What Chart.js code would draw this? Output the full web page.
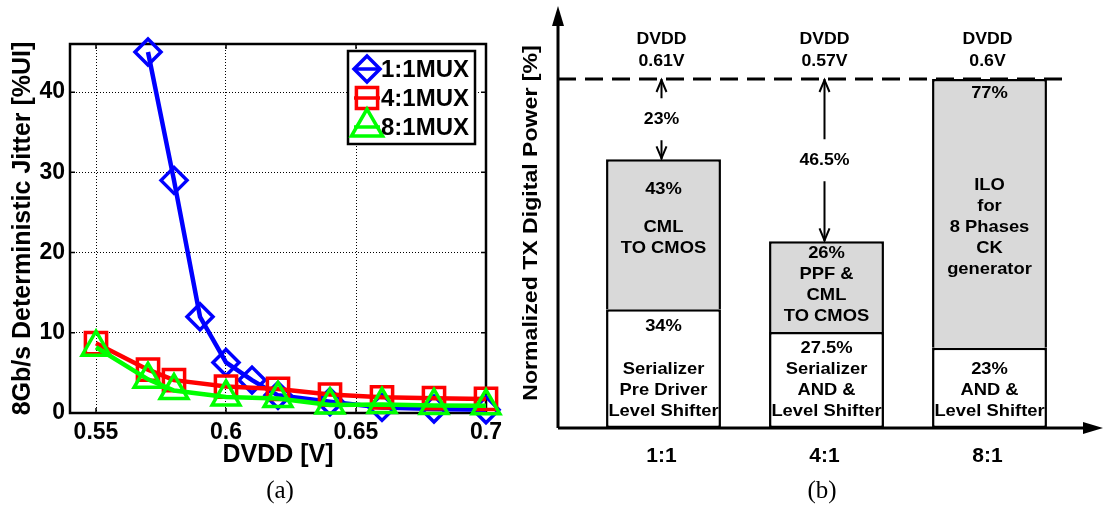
<!DOCTYPE html>
<html>
<head>
<meta charset="utf-8">
<script src="https://cdn.jsdelivr.net/npm/chart.js@4/dist/chart.umd.min.js"></script>
<style>
  html, body { margin: 0; padding: 0; background: #fff; }
  #wrap { position: relative; width: 1104px; height: 511px; overflow: hidden; }
  #jitter { position: absolute; left: 0; top: 0; }
  #power { position: absolute; left: 520px; top: 0; }
  .cap { position: absolute; font: 25px "Liberation Serif", serif; color: #000; transform: translate(-50%, -50%); }
</style>
</head>
<body>
<div id="wrap">
  <canvas id="jitter" width="520" height="511"></canvas>
  <canvas id="power" width="584" height="511"></canvas>
  <div class="cap" style="left:280px; top:490px">(a)</div>
  <div class="cap" style="left:822px; top:490px">(b)</div>
</div>
<script>
// (a) deterministic jitter vs DVDD
const mux1Vdd = [0.57, 0.58, 0.59, 0.6, 0.61, 0.62, 0.64, 0.66, 0.68, 0.7];
const mux1Jitter = [45, 29, 12, 6.3, 4.1, 2.2, 1.4, 0.7, 0.5, 0.4];
const mux4Vdd = [0.55, 0.57, 0.58, 0.6, 0.62, 0.64, 0.66, 0.68, 0.7];
const mux4Jitter = [8.7, 5.4, 4.1, 3.3, 3.0, 2.3, 1.95, 1.85, 1.75];
const mux8Vdd = [0.55, 0.57, 0.58, 0.6, 0.62, 0.64, 0.66, 0.68, 0.7];
const mux8Jitter = [8.2, 4.2, 2.8, 2.0, 1.8, 1.0, 1.05, 0.95, 0.9];
const seriesNames = ['1:1MUX', '4:1MUX', '8:1MUX'];
const vddTicks = [0.55, 0.6, 0.65, 0.7];
const vddTickLabels = ['0.55', '0.6', '0.65', '0.7'];
const jitterTicks = [0, 10, 20, 30, 40];

// (b) normalized TX digital power breakdown
const muxRatios = ['1:1', '4:1', '8:1'];
const lowerShare = [34, 27.5, 23];
const upperShare = [43, 26, 77];
const lowerNames = [['Serializer', 'Pre Driver', 'Level Shifter'], ['Serializer', 'AND &', 'Level Shifter'], ['AND &', 'Level Shifter']];
const upperNames = [['CML', 'TO CMOS'], ['PPF &', 'CML', 'TO CMOS'], ['ILO', 'for', '8 Phases', 'CK', 'generator']];
const supplyLabels = ['0.61V', '0.57V', '0.6V'];
const savingLabels = ['23%', '46.5%', ''];

const BOLD = '"Liberation Sans", Arial, sans-serif';

function pts(xs, ys) {
  return xs.map(function (v, i) { return {x: v, y: ys[i]}; });
}

function series(label, color, style, radius, data, order) {
  return {
    label: label,
    data: data,
    borderColor: color,
    borderWidth: 4.5,
    pointStyle: style,
    pointRadius: radius,
    pointBorderWidth: 3.5,
    pointBorderColor: color,
    pointBackgroundColor: 'rgba(0,0,0,0)',
    tension: 0,
    clip: false,
    order: order
  };
}

const jitterFrame = {
  id: 'jitterFrame',
  beforeDatasetsDraw(chart) {
    const {ctx, chartArea: a, scales: {x, y}} = chart;
    ctx.save();
    ctx.strokeStyle = '#000';
    ctx.lineWidth = 2.5;
    ctx.strokeRect(a.left, a.top, a.right - a.left, a.bottom - a.top);
    ctx.lineWidth = 1.5;
    ctx.beginPath();
    vddTicks.forEach(function (v) {
      const px = x.getPixelForValue(v);
      ctx.moveTo(px, a.bottom); ctx.lineTo(px, a.bottom - 5);
      ctx.moveTo(px, a.top); ctx.lineTo(px, a.top + 5);
    });
    jitterTicks.forEach(function (v) {
      const py = y.getPixelForValue(v);
      ctx.moveTo(a.left, py); ctx.lineTo(a.left + 5, py);
      ctx.moveTo(a.right, py); ctx.lineTo(a.right - 5, py);
    });
    ctx.stroke();
    ctx.restore();
  }
};

const legendRadius = [13, 15, 18];
const jitterLegend = {
  id: 'jitterLegend',
  afterDatasetsDraw(chart) {
    const ctx = chart.ctx;
    const bx = 348, by = 51, bw = 127, bh = 93;
    ctx.save();
    ctx.fillStyle = '#fff';
    ctx.fillRect(bx, by, bw, bh);
    ctx.strokeStyle = '#000';
    ctx.lineWidth = 2.5;
    ctx.strokeRect(bx, by, bw, bh);
    chart.data.datasets.forEach(function (ds, i) {
      const cy = by + 18 + i * 29;
      ctx.strokeStyle = ds.borderColor;
      ctx.lineWidth = 3.5;
      ctx.beginPath();
      ctx.moveTo(bx + 6, cy);
      ctx.lineTo(bx + 32, cy);
      ctx.stroke();
      ctx.fillStyle = 'rgba(0,0,0,0)';
      Chart.helpers.drawPoint(ctx, {pointStyle: ds.pointStyle, radius: legendRadius[i], rotation: 0, borderWidth: 3.5}, bx + 19, cy);
      ctx.fillStyle = '#000';
      ctx.font = 'bold 24px ' + BOLD;
      ctx.textAlign = 'left';
      ctx.textBaseline = 'middle';
      ctx.fillText(ds.label, bx + 33, cy + 1);
    });
    ctx.restore();
  }
};

new Chart(document.getElementById('jitter'), {
  type: 'line',
  data: {
    datasets: [
      series(seriesNames[0], '#0000ff', 'rectRot', 13, pts(mux1Vdd, mux1Jitter), 3),
      series(seriesNames[1], '#ff0000', 'rect', 15, pts(mux4Vdd, mux4Jitter), 2),
      series(seriesNames[2], '#00ff00', 'triangle', 16, pts(mux8Vdd, mux8Jitter), 1)
    ]
  },
  options: {
    responsive: false,
    animation: false,
    layout: {padding: {left: 0, right: 34, top: 44, bottom: 0}},
    plugins: {legend: {display: false}, tooltip: {enabled: false}},
    scales: {
      x: {
        type: 'linear',
        min: 0.54,
        max: 0.7,
        afterBuildTicks: function (s) { s.ticks = vddTicks.map(function (v) { return {value: v}; }); },
        afterFit: function (s) { s.height = 98; },
        ticks: {
          padding: 6,
          color: '#000',
          font: {family: BOLD, size: 23, weight: 'bold'},
          callback: function (v) { return vddTickLabels[vddTicks.indexOf(v)]; }
        },
        grid: {color: '#000', lineWidth: 1, drawTicks: false},
        border: {display: false, dash: [1, 2]},
        title: {display: true, text: 'DVDD [V]', color: '#000', padding: {top: 4, bottom: 41}, font: {family: BOLD, size: 25, weight: 'bold'}}
      },
      y: {
        min: 0,
        max: 46,
        afterBuildTicks: function (s) { s.ticks = jitterTicks.map(function (v) { return {value: v}; }); },
        afterFit: function (s) { s.width = 70; },
        ticks: {
          padding: 5,
          color: '#000',
          font: {family: BOLD, size: 23, weight: 'bold'}
        },
        grid: {color: '#000', lineWidth: 1, drawTicks: false},
        border: {display: false, dash: [1, 2]},
        title: {display: true, text: '8Gb/s Deterministic Jitter [%UI]', color: '#000', padding: {top: 8, bottom: 0}, font: {family: BOLD, size: 25, weight: 'bold'}}
      }
    }
  },
  plugins: [jitterFrame, jitterLegend]
});

// ---------- panel (b) ----------
function stretchText(ctx, s, x, y, sx) {
  ctx.save();
  ctx.translate(x, y);
  ctx.scale(sx, 1);
  ctx.fillText(s, 0, 0);
  ctx.restore();
}

function chevron(ctx, x, tipY, dir) {
  ctx.beginPath();
  ctx.moveTo(x - 5, tipY + dir * 12);
  ctx.lineTo(x, tipY);
  ctx.lineTo(x + 5, tipY + dir * 12);
  ctx.stroke();
}

const upperPctDy = [30, 12, 14];
const upperNameDy = [68, 33, 106];
const lowerPctDy = [17, null, null];

const powerNotes = {
  id: 'powerNotes',
  afterDatasetsDraw(chart) {
    const {ctx, chartArea: a, scales: {y}} = chart;
    const lower = chart.getDatasetMeta(0).data;
    const upper = chart.getDatasetMeta(1).data;
    const full = y.getPixelForValue(100);
    const axisX = a.left - 24;
    const lh = 21;
    ctx.save();
    ctx.strokeStyle = '#000';
    ctx.fillStyle = '#000';

    // axes with arrows
    ctx.lineWidth = 3;
    ctx.beginPath();
    ctx.moveTo(axisX, a.bottom); ctx.lineTo(axisX, 20);
    ctx.moveTo(axisX, a.bottom); ctx.lineTo(568, a.bottom);
    ctx.stroke();
    ctx.beginPath();
    ctx.moveTo(axisX, 6); ctx.lineTo(axisX - 6, 26); ctx.lineTo(axisX + 6, 26); ctx.closePath(); ctx.fill();
    ctx.beginPath();
    ctx.moveTo(583, a.bottom); ctx.lineTo(563, a.bottom - 6); ctx.lineTo(563, a.bottom + 6); ctx.closePath(); ctx.fill();

    // 100% reference dashed line
    ctx.setLineDash([18, 9]);
    ctx.beginPath();
    ctx.moveTo(axisX, full); ctx.lineTo(547, full);
    ctx.stroke();
    ctx.setLineDash([]);

    ctx.textAlign = 'center';
    ctx.textBaseline = 'middle';
    ctx.font = 'bold 17px ' + BOLD;

    muxRatios.forEach(function (lab, i) {
      const lo = lower[i], up = upper[i];
      const cx = lo.x;
      // supply label
      stretchText(ctx, 'DVDD', cx - 2, 39, 1.04);
      stretchText(ctx, supplyLabels[i], cx - 2, 61, 1.04);
      // saving arrow
      if (savingLabels[i]) {
        const ax = cx - 2, top = up.y, mid = (full + top) / 2;
        ctx.lineWidth = 2;
        ctx.beginPath();
        ctx.moveTo(ax, full); ctx.lineTo(ax, mid - 21);
        ctx.moveTo(ax, mid + 21); ctx.lineTo(ax, top);
        ctx.stroke();
        chevron(ctx, ax, full + 1, 1);
        chevron(ctx, ax, top - 1, -1);
        stretchText(ctx, savingLabels[i], ax, mid, 1.04);
      }
      // upper segment text
      stretchText(ctx, upperShare[i] + '%', cx, up.y + upperPctDy[i], 1.08);
      upperNames[i].forEach(function (s, k) {
        stretchText(ctx, s, cx, up.y + upperNameDy[i] + k * lh, 1.08);
      });
      // lower segment text
      const lines = lowerNames[i].slice();
      if (lowerPctDy[i] === null) lines.unshift(lowerShare[i] + '%');
      else stretchText(ctx, lowerShare[i] + '%', cx, lo.y + lowerPctDy[i], 1.08);
      lines.forEach(function (s, k) {
        stretchText(ctx, s, cx, lo.base - 17 - (lines.length - 1 - k) * lh, 1.08);
      });
    });

    // category labels
    ctx.font = 'bold 21px ' + BOLD;
    muxRatios.forEach(function (lab, i) {
      ctx.fillText(lab, lower[i].x - 2, 456);
    });

    // y title
    ctx.save();
    ctx.translate(11, 223);
    ctx.rotate(-Math.PI / 2);
    ctx.scale(1.1, 1);
    ctx.fillText('Normalized TX Digital Power [%]', 0, 0);
    ctx.restore();

    ctx.restore();
  }
};

new Chart(document.getElementById('power'), {
  type: 'bar',
  data: {
    labels: muxRatios,
    datasets: [
      {data: lowerShare, backgroundColor: '#ffffff', borderColor: '#000', borderWidth: 2.5, borderSkipped: false},
      {data: upperShare, backgroundColor: '#d9d9d9', borderColor: '#000', borderWidth: 2.5, borderSkipped: 'start'}
    ]
  },
  options: {
    responsive: false,
    animation: false,
    layout: {padding: {left: 62, right: 33, top: 79, bottom: 83}},
    plugins: {legend: {display: false}, tooltip: {enabled: false}},
    datasets: {bar: {categoryPercentage: 1, barPercentage: 0.705}},
    scales: {
      x: {stacked: true, display: false},
      y: {stacked: true, display: false, min: 0, max: 100}
    }
  },
  plugins: [powerNotes]
});
</script>
</body>
</html>
